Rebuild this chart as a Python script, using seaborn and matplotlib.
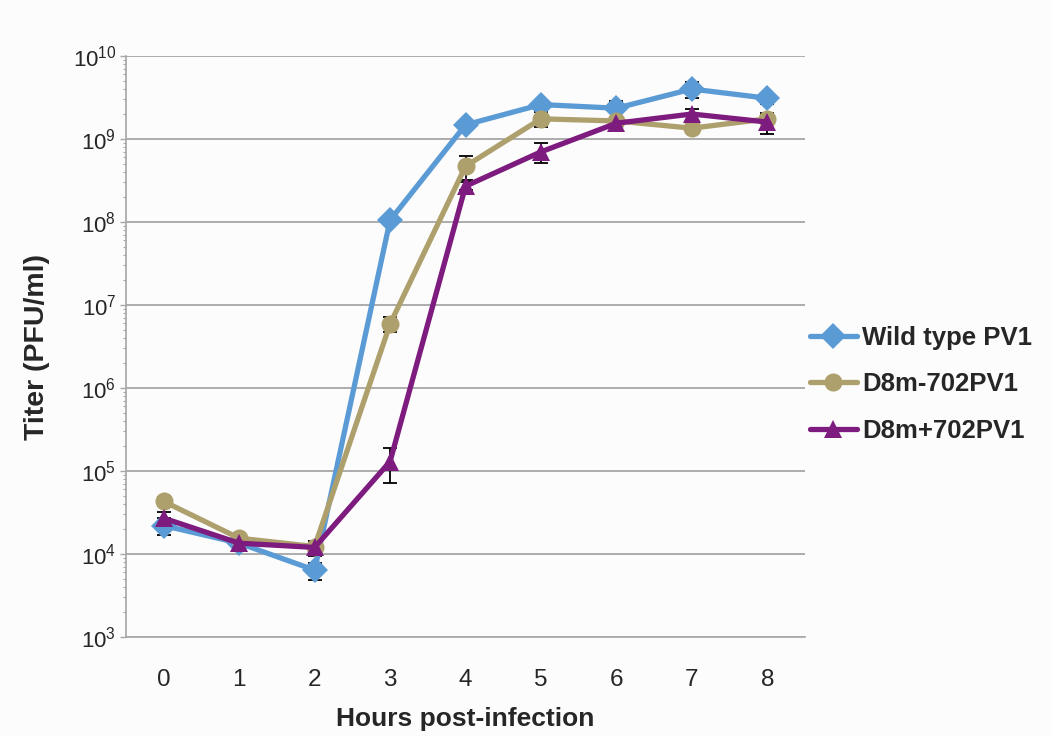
import numpy as np
import pandas as pd
import matplotlib
matplotlib.use("Agg")
import matplotlib.pyplot as plt
import matplotlib.ticker as mticker
import seaborn as sns

hours = [0, 1, 2, 3, 4, 5, 6, 7, 8]
series_names = ["Wild type PV1", "D8m-702PV1", "D8m+702PV1"]
decades = [3, 4, 5, 6, 7, 8, 9, 10]

wild_type = [2.2e4, 1.35e4, 6.4e3, 1.05e8, 1.48e9, 2.6e9, 2.35e9, 4.0e9, 3.1e9]
wild_type_sd = [5e3, 1e3, 1.5e3, 5e6, 1e8, 2e8, 5.5e8, 9e8, 4.5e8]

d8m_minus = [4.3e4, 1.55e4, 1.23e4, 5.9e6, 4.7e8, 1.75e9, 1.65e9, 1.35e9, 1.75e9]
d8m_minus_sd = [5e3, 1e3, 1.5e3, 1.2e6, 1.5e8, 3.5e8, 2e8, 1e8, 2.5e8]

d8m_plus = [2.7e4, 1.35e4, 1.2e4, 1.3e5, 2.7e8, 7.0e8, 1.55e9, 2.0e9, 1.6e9]
d8m_plus_sd = [5e3, 1e3, 2.5e3, 5.8e4, 3e7, 1.9e8, 1.5e8, 3e8, 4.5e8]

colors = ["#5b9bd5", "#aea06c", "#7d1b7e"]
markers = ["D", "o", "^"]

sns.set_style("white")
plt.rcParams["font.family"] = ["Liberation Sans", "DejaVu Sans"]
plt.rcParams["mathtext.default"] = "regular"

df = pd.DataFrame({
    "hour": hours * 3,
    "titer": wild_type + d8m_minus + d8m_plus,
    "sd": wild_type_sd + d8m_minus_sd + d8m_plus_sd,
    "strain": [n for n in series_names for _ in hours],
})

fig = plt.figure(figsize=(10.52, 7.36), dpi=100, facecolor="#fcfcfc")
ax = fig.add_axes([0.1198, 0.1345, 0.6454, 0.7894])
ax.set_facecolor("#fcfcfc")

# error bars first so the markers sit on top
for name in series_names:
    sub = df[df["strain"] == name]
    ax.errorbar(sub["hour"], sub["titer"], yerr=sub["sd"], fmt="none",
                ecolor="black", elinewidth=1.3, capsize=5, capthick=1.3, zorder=2)

sns.lineplot(data=df, x="hour", y="titer", hue="strain", style="strain",
             hue_order=series_names, style_order=series_names,
             palette=dict(zip(series_names, colors)),
             markers=dict(zip(series_names, markers)), dashes=False,
             linewidth=3.8, markersize=13, markeredgewidth=0, ax=ax, zorder=3)

ax.set_yscale("log")
ax.set_ylim(1e3, 1e10)
ax.set_xlim(-0.5, 8.5)

ax.set_yticks([10.0 ** k for k in decades])
ax.set_yticklabels(["$10^{%d}$" % k for k in decades])
ax.set_yticks([m * 10.0 ** k for k in decades[:-1] for m in range(2, 10)], minor=True)
ax.yaxis.set_minor_formatter(mticker.NullFormatter())
ax.grid(axis="y", which="major", color="#a6a6a6", linewidth=1.3)
ax.grid(axis="x", visible=False)

ax.set_xticks(hours)
ax.set_xticklabels([str(h) for h in hours])
ax.set_xticks(np.arange(-0.5, 9.0, 1.0), minor=True)
ax.tick_params(axis="x", which="major", length=0, pad=23, labelsize=17.5)
ax.tick_params(axis="x", which="minor", length=7, width=1, color="#a6a6a6", direction="out")
ax.tick_params(axis="y", which="major", length=4, width=1, color="#a6a6a6", pad=3, labelsize=16, left=True)
ax.tick_params(axis="y", which="minor", length=2.5, width=0.8, color="#a6a6a6", left=True)

for side in ["top", "right"]:
    ax.spines[side].set_visible(False)
for side in ["left", "bottom"]:
    ax.spines[side].set_color("#a6a6a6")
    ax.spines[side].set_linewidth(1.2)

ax.set_xlabel("Hours post-infection", fontsize=19, fontweight="bold")
ax.set_ylabel("Titer (PFU/ml)", fontsize=20.5, fontweight="bold")
ax.xaxis.set_label_coords(0.5, -0.12)
ax.yaxis.set_label_coords(-0.112, 0.5)

ax.legend(title=None, loc="center left", bbox_to_anchor=(0.760, 0.478),
          bbox_transform=fig.transFigure, frameon=False,
          prop={"size": 18.5, "weight": "bold"}, handlelength=1.83,
          handletextpad=0.2, labelspacing=0.88, borderaxespad=0)

fig.savefig("out.png", dpi=100, facecolor=fig.get_facecolor())
